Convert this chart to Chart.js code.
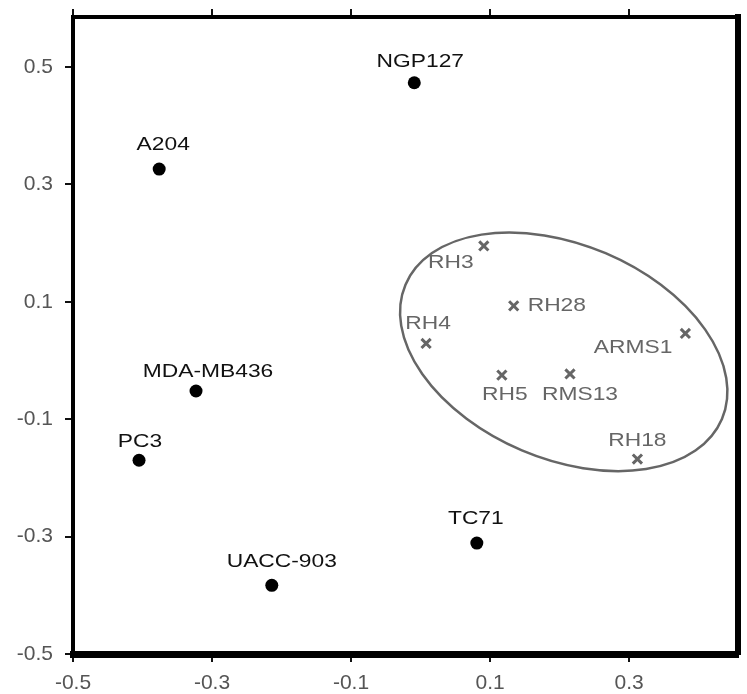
<!DOCTYPE html>
<html>
<head>
<meta charset="utf-8">
<script src="https://cdn.jsdelivr.net/npm/chart.js@4"></script>
<style>
  body { margin: 0; background: #fff; }
  canvas { display: block; }
</style>
</head>
<body>
<canvas id="main-chart" width="747" height="694"></canvas>
<script>
// cell lines outside the cluster (filled dots)
const dotNames = ["NGP127", "A204", "MDA-MB436", "PC3", "UACC-903", "TC71"];
const dotX = [-0.009, -0.376, -0.323, -0.405, -0.214, 0.081];
const dotY = [0.473, 0.326, -0.052, -0.170, -0.383, -0.311];

// rhabdomyosarcoma lines (crosses, inside the ellipse)
const crossNames = ["RH3", "RH28", "RH4", "ARMS1", "RH5", "RMS13", "RH18"];
const crossX = [0.091, 0.134, 0.008, 0.381, 0.117, 0.215, 0.312];
const crossY = [0.195, 0.093, 0.029, 0.046, -0.025, -0.023, -0.168];

const xTicks = [-0.5, -0.3, -0.1, 0.1, 0.3];
const yTicks = [-0.5, -0.3, -0.1, 0.1, 0.3, 0.5];

// cluster ellipse: centre (data units), semi axes (x units), tilt
const ellipseCenter = [0.206, 0.0147];
const ellipseAxes = [0.2473, 0.1541];
const ellipseTilt = 23;

// label placement [dx, dy, align] in px, relative to the marker
const dotLabelPos = [[6, -21, "center"], [4, -24, "center"], [12, -19, "center"], [1, -18, "center"], [10, -24, "center"], [-1, -24, "center"]];
const crossLabelPos = [[-33, 17, "center"], [14, 0, "left"], [2, -20, "center"], [-13, 14, "right"], [3, 20, "center"], [10, 21, "center"], [0, -18, "center"]];

const ctx = document.getElementById("main-chart").getContext("2d");

const tickFont = { family: "'Liberation Sans', Arial, sans-serif", size: 21 };

const setTicks = (list) => (s) => { s.ticks = list.map((v) => ({ value: v })); };
const fitTo = (key, size) => (s) => {
  s[key] = size;
  s.paddingTop = s.paddingBottom = s.paddingLeft = s.paddingRight = 0;
};

const ellipsePlugin = {
  id: "ellipse",
  beforeDatasetsDraw(chart) {
    const { x, y } = chart.scales;
    const c = chart.ctx;
    const cx = x.getPixelForValue(ellipseCenter[0]);
    const cy = y.getPixelForValue(ellipseCenter[1]);
    const ra = x.getPixelForValue(ellipseCenter[0] + ellipseAxes[0]) - cx;
    const rb = x.getPixelForValue(ellipseCenter[0] + ellipseAxes[1]) - cx;
    c.save();
    c.beginPath();
    c.ellipse(cx, cy, ra, rb, ellipseTilt * Math.PI / 180, 0, Math.PI * 2);
    c.strokeStyle = "#666";
    c.lineWidth = 2.5;
    c.stroke();
    c.restore();
  },
};

const labelPlugin = {
  id: "pointLabels",
  afterDatasetsDraw(chart) {
    const c = chart.ctx;
    chart.data.datasets.forEach((ds, di) => {
      const meta = chart.getDatasetMeta(di);
      meta.data.forEach((pt, i) => {
        const [dx, dy, align] = ds.labelPos[i];
        c.save();
        c.translate(pt.x + dx, pt.y + dy);
        c.scale(1.2, 1);
        c.font = "19px 'Liberation Sans', Arial, sans-serif";
        c.fillStyle = ds.labelColor;
        c.textAlign = align;
        c.textBaseline = "middle";
        c.fillText(ds.names[i], 0, 0);
        c.restore();
      });
    });
  },
};

new Chart(ctx, {
  type: "scatter",
  data: {
    datasets: [
      {
        data: dotX.map((v, i) => ({ x: v, y: dotY[i] })),
        names: dotNames,
        labelPos: dotLabelPos,
        labelColor: "#111",
        pointStyle: "circle",
        pointRadius: 6.5,
        backgroundColor: "#000",
        borderColor: "#000",
        borderWidth: 0,
      },
      {
        data: crossX.map((v, i) => ({ x: v, y: crossY[i] })),
        names: crossNames,
        labelPos: crossLabelPos,
        labelColor: "#666",
        pointStyle: "crossRot",
        pointRadius: 6.5,
        borderColor: "#666",
        borderWidth: 3,
      },
    ],
  },
  options: {
    responsive: false,
    animation: false,
    devicePixelRatio: 1,
    layout: { padding: 0 },
    plugins: {
      legend: { display: false },
      tooltip: { enabled: false },
    },
    scales: {
      x: {
        type: "linear",
        position: "bottom",
        min: -0.5,
        max: 0.456,
        afterBuildTicks: setTicks(xTicks),
        afterFit: fitTo("height", 40),
        ticks: { font: tickFont, color: "#555", padding: 9, maxRotation: 0, callback: (v) => v.toFixed(1) },
        grid: { drawOnChartArea: false, drawTicks: true, tickLength: 8, color: "#111", lineWidth: 2 },
        border: { color: "#000", width: 7 },
      },
      x2: {
        type: "linear",
        position: "top",
        min: -0.5,
        max: 0.456,
        afterBuildTicks: setTicks(xTicks),
        afterFit: fitTo("height", 17),
        ticks: { display: false },
        grid: { drawOnChartArea: false, drawTicks: true, tickLength: 8, color: "#111", lineWidth: 2 },
        border: { color: "#000", width: 4 },
      },
      y: {
        type: "linear",
        position: "left",
        min: -0.5,
        max: 0.585,
        afterBuildTicks: setTicks(yTicks),
        afterFit: fitTo("width", 73),
        ticks: { font: tickFont, color: "#555", padding: 12, callback: (v) => v.toFixed(1) },
        grid: { drawOnChartArea: false, drawTicks: true, tickLength: 8, color: "#111", lineWidth: 2 },
        border: { color: "#000", width: 4 },
      },
      y2: {
        type: "linear",
        position: "right",
        min: -0.5,
        max: 0.585,
        afterFit: fitTo("width", 6),
        ticks: { display: false },
        grid: { display: false },
        border: { color: "#000", width: 6 },
      },
    },
  },
  plugins: [ellipsePlugin, labelPlugin],
});
</script>
</body>
</html>
